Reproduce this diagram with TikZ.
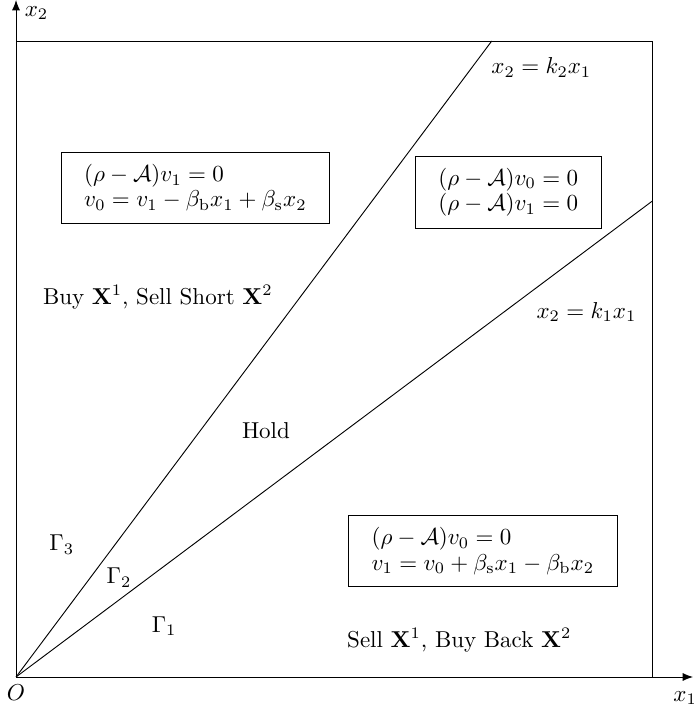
\documentclass[tikz,border=0pt]{standalone}
\usepackage{amsmath}
\usetikzlibrary{positioning,arrows.meta}

\begin{document}
\begin{tikzpicture}[x=0.972cm,y=0.972cm,
  eqbox/.style={draw,thin,inner xsep=10pt,inner ysep=5.2pt,font=\fontsize{10}{11}\selectfont},
  lbl/.style={inner sep=0pt},
  >={Latex[length=4.5pt,width=3.5pt]}]
\useasboundingbox (-0.252,-0.519) rectangle (10.645,10.645);
\def\L{10}
% corners and line ends
\coordinate (O) at (0,0);
\coordinate (xend) at (10.645,0);
\coordinate (yend) at (0,10.645);
\coordinate (tr) at (\L,\L);
\coordinate (kTwo) at (7.48,\L);
\coordinate (kOne) at (\L,7.48);
\draw (O) rectangle (tr);
\draw[->] (O) -- (xend);
\draw[->] (O) -- (yend);
\draw (O) -- (kTwo);
\draw (O) -- (kOne);
\node[lbl,anchor=west] (xone) at (10.33,-0.33) {$x_1$};
\node[lbl,anchor=west] (xtwo) at (0.13,10.44) {$x_2$};
\node[below] (orig) at (O) {$O$};
\node[lbl] (lineTwo) at (8.26,9.58) {$x_2=k_2x_1$};
\node[lbl] (lineOne) at (8.97,5.74) {$x_2=k_1x_1$};
% equations in the three regions
\node[eqbox,align=left] (boxBuy) at (2.82,7.69)
  {$(\rho-\mathcal{A})v_1=0$\\ $v_0=v_1-\beta_{\mathrm{b}}x_1+\beta_{\mathrm{s}}x_2$};
\node[eqbox,align=center] (boxHold) at (7.74,7.62)
  {$(\rho-\mathcal{A})v_0=0$\\ $(\rho-\mathcal{A})v_1=0$};
\node[eqbox,align=left] (boxSell) at (7.34,1.98)
  {$(\rho-\mathcal{A})v_0=0$\\ $v_1=v_0+\beta_{\mathrm{s}}x_1-\beta_{\mathrm{b}}x_2$};
\node[lbl] (buy) at (2.23,5.97) {Buy $\mathbf{X}^1$, Sell Short $\mathbf{X}^2$};
\node[lbl] (hold) at (3.93,3.87) {Hold};
\node[lbl] (sell) at (6.97,0.58) {Sell $\mathbf{X}^1$, Buy Back $\mathbf{X}^2$};
\foreach \n/\x/\y in {3/0.72/2.08,2/1.62/1.56,1/2.33/0.80}{
  \node[lbl] (gam\n) at (\x,\y) {$\Gamma_\n$};}
\end{tikzpicture}
\end{document}
